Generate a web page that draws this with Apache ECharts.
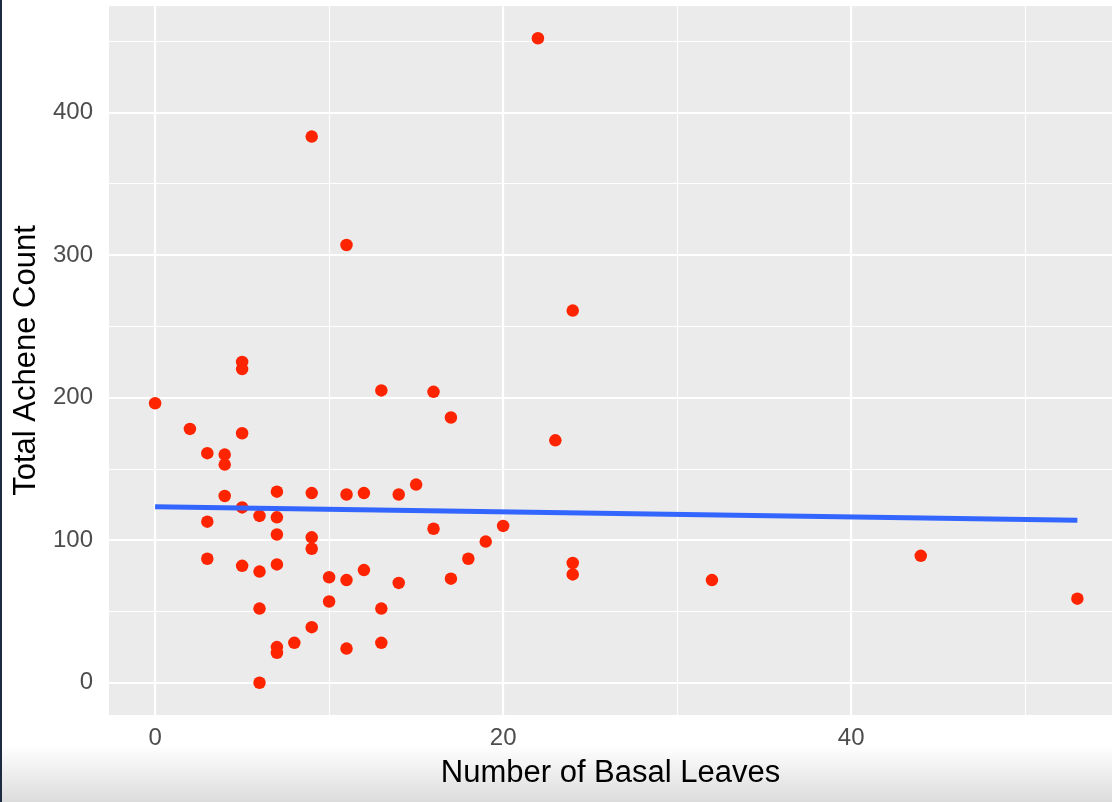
<!DOCTYPE html>
<html>
<head>
<meta charset="utf-8">
<script src="https://cdn.jsdelivr.net/npm/echarts@6/dist/echarts.min.js"></script>
<style>
html,body{margin:0;padding:0;background:#fff;}
#chart{width:1112px;height:802px;}
</style>
</head>
<body>
<div id="chart"></div>
<script>
// Data
const basalLeaves = [0, 2, 3, 3, 3, 4, 4, 4, 5, 5, 5, 5, 5, 6, 6, 6, 6, 7, 7, 7, 7, 7, 7, 8,
  9, 9, 9, 9, 9, 10, 10, 11, 11, 11, 11, 12, 12, 13, 13, 13, 14, 14, 15, 16, 16, 17, 17,
  18, 19, 20, 22, 23, 24, 24, 24, 32, 44, 53];
const acheneCount = [196, 178, 161, 113, 87, 160, 153, 131, 225, 220, 175, 123, 82, 117, 78, 52, 0,
  134, 116, 104, 83, 25, 21, 28, 383, 133, 102, 94, 39, 74, 57, 307, 132, 72, 24, 133, 79,
  205, 52, 28, 132, 70, 139, 204, 108, 186, 73, 87, 99, 110, 452, 170, 261, 84, 76, 72, 89, 59];
const trendX = [0, 53];
const trendY = [123.5, 114];
const xTicks = [0, 20, 40];
const xMinor = [10, 30, 50];
const yTicks = [0, 100, 200, 300, 400];
const yMinor = [50, 150, 250, 350, 450];

const points = basalLeaves.map((x, i) => [x, acheneCount[i]]);
const trend = trendX.map((x, i) => [x, trendY[i]]);

const gridLines = [];
xMinor.forEach(v => gridLines.push({xAxis: v, lineStyle: {width: 1.1}}));
yMinor.forEach(v => gridLines.push({yAxis: v, lineStyle: {width: 1.1}}));
xTicks.forEach(v => gridLines.push({xAxis: v, lineStyle: {width: 2.2}}));
yTicks.forEach(v => gridLines.push({yAxis: v, lineStyle: {width: 2.2}}));

const chart = echarts.init(document.getElementById('chart'), null, {renderer: 'canvas'});
const font = 'Liberation Sans, Arial, Helvetica, sans-serif';
chart.setOption({
  animation: false,
  backgroundColor: '#ffffff',
  graphic: [
    {type: 'rect', shape: {x: 0, y: 745, width: 1112, height: 57}, z: -10,
     style: {fill: new echarts.graphic.LinearGradient(0, 0, 0, 1, [
       {offset: 0, color: '#ffffff'}, {offset: 1, color: '#dcdcdc'}])}},
    {type: 'rect', shape: {x: 0, y: 0, width: 2, height: 802}, z: 100,
     style: {fill: '#1c2b40'}}
  ],
  grid: {
    left: 109, top: 6, width: 1003, height: 709,
    show: true, backgroundColor: '#EBEBEB', borderWidth: 0
  },
  xAxis: {
    type: 'value', min: -2.65, max: 54.99,
    name: 'Number of Basal Leaves', nameLocation: 'middle', nameGap: 43,
    nameTextStyle: {fontFamily: font, fontSize: 31, color: '#000000'},
    axisLine: {show: false},
    axisTick: {show: true, customValues: xTicks, length: 7, lineStyle: {color: '#333333', width: 2}},
    axisLabel: {customValues: xTicks, margin: 11, fontFamily: font, fontSize: 24, color: '#4D4D4D'},
    splitLine: {show: false}
  },
  yAxis: {
    type: 'value', min: -22.6, max: 474.6,
    name: 'Total Achene Count', nameLocation: 'middle', nameGap: 64, nameRotate: 90,
    nameTextStyle: {fontFamily: font, fontSize: 31, color: '#000000'},
    axisLine: {show: false},
    axisTick: {show: true, customValues: yTicks, length: 7, lineStyle: {color: '#333333', width: 2}},
    axisLabel: {customValues: yTicks, margin: 16, fontFamily: font, fontSize: 24, color: '#4D4D4D'},
    splitLine: {show: false}
  },
  series: [
    {
      type: 'line', data: [], z: 1, silent: true,
      markLine: {
        z: 1, silent: true, symbol: ['none', 'none'], label: {show: false},
        lineStyle: {color: '#ffffff', type: 'solid'},
        emphasis: {disabled: true},
        animation: false,
        data: gridLines
      }
    },
    {
      type: 'scatter', data: points, z: 3, symbol: 'circle', symbolSize: 12.5,
      itemStyle: {color: '#FF2400', opacity: 1}
    },
    {
      type: 'line', data: trend, z: 4, symbol: 'none', smooth: false,
      lineStyle: {color: '#3366FF', width: 5}
    }
  ]
});
</script>
</body>
</html>
